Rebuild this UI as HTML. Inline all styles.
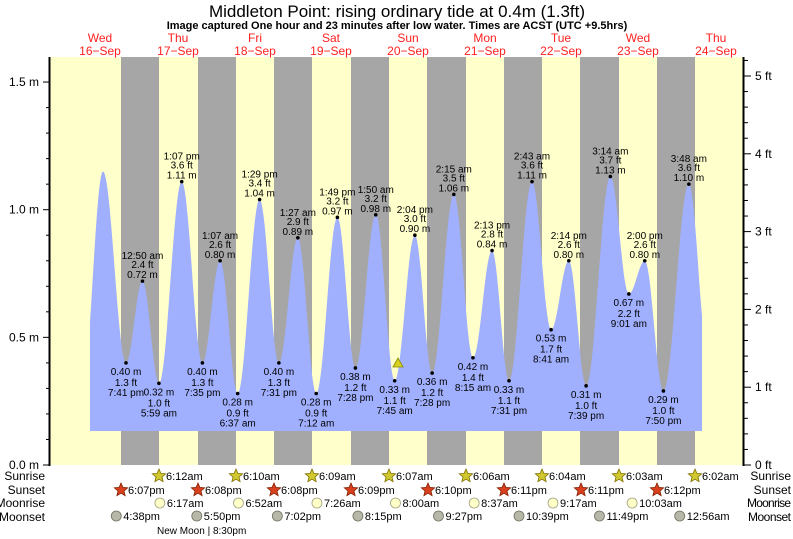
<!DOCTYPE html>
<html><head><meta charset="utf-8"><style>
html,body{margin:0;padding:0;background:#fff;}
svg{display:block;font-family:"Liberation Sans",Arial,sans-serif;}
</style></head><body>
<svg id="s" width="793" height="539" viewBox="0 0 793 539" xmlns="http://www.w3.org/2000/svg">
<rect x="0" y="0" width="793" height="539" fill="#fff"/>
<rect x="50" y="57" width="693" height="408" fill="#ffffcc"/>
<g id="night" fill="#a6a6a6"></g>
<path id="tide" fill="#a0b0ff" d=""/>
<g id="lbl" font-size="10" fill="#000" text-anchor="middle"></g>
<polygon points="393,367 398,358 403,367" fill="#d8d020" stroke="#8a8a00" stroke-width="0.8"/>
<g id="ax" stroke="#000"></g>
<g id="axt" font-size="12" fill="#000"></g>
<text x="397" y="17" font-size="17" text-anchor="middle">Middleton Point: rising  ordinary tide at 0.4m (1.3ft)</text>
<text x="397" y="29" font-size="11" font-weight="bold" text-anchor="middle">Image captured One hour and 23 minutes after low water. Times are ACST (UTC +9.5hrs)</text>
<g id="days" font-size="12" fill="#ff2020" text-anchor="middle"></g>
<g id="bot" font-size="11" fill="#000"></g>
</svg>
<script>
var NS="http://www.w3.org/2000/svg";
function el(p,t,a,txt){var e=document.createElementNS(NS,t);for(var k in a)e.setAttribute(k,a[k]);if(txt!==undefined)e.textContent=txt;document.getElementById(p).appendChild(e);return e;}
var M17=139.8,H=3.196;
function X(day,h,m){return M17+((day-17)*24+h+m/60)*H;}
function Y(v){return 465-v*255.3;}
[[121,159],[198,236],[274,312],[351,389],[427,466],[504,542],[580,619],[657,695]].forEach(function(b){el("night","rect",{x:b[0],y:57,width:b[1]-b[0],height:408});});
var E=[
[90,0.64,null],
[103,1.15,null],
[X(16,19,41),0.40,["0.40 m","1.3 ft","7:41 pm"]],
[X(17,0,50),0.72,["12:50 am","2.4 ft","0.72 m"]],
[X(17,5,59),0.32,["0.32 m","1.0 ft","5:59 am"]],
[X(17,13,7),1.11,["1:07 pm","3.6 ft","1.11 m"]],
[X(17,19,35),0.40,["0.40 m","1.3 ft","7:35 pm"]],
[X(18,1,7),0.80,["1:07 am","2.6 ft","0.80 m"]],
[X(18,6,37),0.28,["0.28 m","0.9 ft","6:37 am"]],
[X(18,13,29),1.04,["1:29 pm","3.4 ft","1.04 m"]],
[X(18,19,31),0.40,["0.40 m","1.3 ft","7:31 pm"]],
[X(19,1,27),0.89,["1:27 am","2.9 ft","0.89 m"]],
[X(19,7,12),0.28,["0.28 m","0.9 ft","7:12 am"]],
[X(19,13,49),0.97,["1:49 pm","3.2 ft","0.97 m"]],
[X(19,19,28),0.38,["0.38 m","1.2 ft","7:28 pm"]],
[X(20,1,50),0.98,["1:50 am","3.2 ft","0.98 m"]],
[X(20,7,45),0.33,["0.33 m","1.1 ft","7:45 am"]],
[X(20,14,4),0.90,["2:04 pm","3.0 ft","0.90 m"]],
[X(20,19,28),0.36,["0.36 m","1.2 ft","7:28 pm"]],
[X(21,2,15),1.06,["2:15 am","3.5 ft","1.06 m"]],
[X(21,8,15),0.42,["0.42 m","1.4 ft","8:15 am"]],
[X(21,14,13),0.84,["2:13 pm","2.8 ft","0.84 m"]],
[X(21,19,31),0.33,["0.33 m","1.1 ft","7:31 pm"]],
[X(22,2,43),1.11,["2:43 am","3.6 ft","1.11 m"]],
[X(22,8,41),0.53,["0.53 m","1.7 ft","8:41 am"]],
[X(22,14,14),0.80,["2:14 pm","2.6 ft","0.80 m"]],
[X(22,19,39),0.31,["0.31 m","1.0 ft","7:39 pm"]],
[X(23,3,14),1.13,["3:14 am","3.7 ft","1.13 m"]],
[X(23,9,1),0.67,["0.67 m","2.2 ft","9:01 am"]],
[X(23,14,0),0.80,["2:00 pm","2.6 ft","0.80 m"]],
[X(23,19,50),0.29,["0.29 m","1.0 ft","7:50 pm"]],
[X(24,3,48),1.10,["3:48 am","3.6 ft","1.10 m"]],
[702,0.81,null]];
var d="M90,431 L90,"+Y(0.64).toFixed(1);
for(var i=0;i<E.length-1;i++){
 var a=E[i],b=E[i+1];
 var x0=a[0],x1=b[0],v0=a[1],v1=b[1];
 var endFrac=1;
 if(i==E.length-2){var xl=X(24,9,40),vl=0.45; x1=xl; v1=vl; endFrac=(702-x0)/(xl-x0);}
 if(i==0){var xp=X(16,6,0),vp=0.3;
  for(var x=90;x<=b[0];x+=1){var f=(x-xp)/(b[0]-xp);var v=vp+(b[1]-vp)*(1-Math.cos(Math.PI*f))/2;d+=" L"+x.toFixed(1)+","+Y(v).toFixed(1);}
  continue;}
 var n=Math.max(4,Math.round((x1-x0)));
 for(var k=1;k<=n;k++){var f=k/n*endFrac;var x=x0+(x1-x0)*f;var v=v0+(v1-v0)*(1-Math.cos(Math.PI*f))/2;d+=" L"+x.toFixed(1)+","+Y(v).toFixed(1);}
}
d+=" L702,431 Z";
document.getElementById("tide").setAttribute("d",d);
E.forEach(function(e){if(!e[2])return;var x=e[0],y=Y(e[1]);
 el("lbl","circle",{cx:x,cy:y,r:1.8,fill:"#000"});
 var hi=e[2][0].indexOf("am")>0||e[2][0].indexOf("pm")>0;
 if(hi){el("lbl","text",{x:x,y:y-22},e[2][0]);el("lbl","text",{x:x,y:y-13},e[2][1]);el("lbl","text",{x:x,y:y-3},e[2][2]);}
 else{el("lbl","text",{x:x,y:y+12},e[2][0]);el("lbl","text",{x:x,y:y+23},e[2][1]);el("lbl","text",{x:x,y:y+33},e[2][2]);}
});
el("ax","line",{x1:49.5,y1:57,x2:49.5,y2:466,"stroke-width":2});
el("ax","line",{x1:743.5,y1:57,x2:743.5,y2:466,"stroke-width":2});
for(var i=0;i<=15;i++){var y=Y(i/10);var maj=i%5==0;el("ax","line",{x1:maj?43:46,y1:y,x2:49,y2:y,"stroke-width":1});}
for(var i=0;i<=26;i++){var y=465-i*0.2*77.8;if(y<57)break;var maj=i%5==0;el("ax","line",{x1:744,y1:y,x2:maj?751:748,y2:y,"stroke-width":1});}
[["0.0 m",0],["0.5 m",0.5],["1.0 m",1],["1.5 m",1.5]].forEach(function(t){el("axt","text",{x:39,y:Y(t[1])+4,"text-anchor":"end"},t[0]);});
for(var i=0;i<=5;i++){el("axt","text",{x:755,y:465-i*77.8+4},i+" ft");}
[["Wed","16\u2212Sep",100],["Thu","17\u2212Sep",178],["Fri","18\u2212Sep",255],["Sat","19\u2212Sep",331],["Sun","20\u2212Sep",408],["Mon","21\u2212Sep",485],["Tue","22\u2212Sep",561],["Wed","23\u2212Sep",638],["Thu","24\u2212Sep",716]].forEach(function(t){el("days","text",{x:t[2],y:42},t[0]);el("days","text",{x:t[2],y:55},t[1]);});
var rows=[["Sunrise",480],["Sunset",494],["Moonrise",507],["Moonset",521]];
rows.forEach(function(r){el("bot","text",{x:45,y:r[1],"text-anchor":"end","font-size":12},r[0]);el("bot","text",{x:791,y:r[1],"text-anchor":"end","font-size":12,textLength:r[0]=="Moonrise"?44:(r[0]=="Moonset"?43:0)||null},r[0]);});
function star(cx,cy,fill,stroke){var p="";for(var i=0;i<10;i++){var r=i%2?3.2:7;var a=-Math.PI/2+i*Math.PI/5;p+=(cx+r*Math.cos(a)).toFixed(1)+","+(cy+r*Math.sin(a)).toFixed(1)+" ";}el("bot","polygon",{points:p,fill:fill,stroke:stroke,"stroke-width":0.8});}
var sr=[[159,"6:12am"],[236,"6:10am"],[312,"6:09am"],[389,"6:07am"],[466,"6:06am"],[542,"6:04am"],[619,"6:03am"],[695,"6:02am"]];
sr.forEach(function(s){star(s[0],476,"#d0c830","#807000");el("bot","text",{x:s[0]+7,y:480},s[1]);});
var ss=[[121,"6:07pm"],[198,"6:08pm"],[274,"6:08pm"],[351,"6:09pm"],[428,"6:10pm"],[504,"6:11pm"],[581,"6:11pm"],[657,"6:12pm"]];
ss.forEach(function(s){star(s[0],490,"#d84020","#802000");el("bot","text",{x:s[0]+7,y:494},s[1]);});
var mr=[[X(17,6,17),"6:17am"],[X(18,6,52),"6:52am"],[X(19,7,26),"7:26am"],[X(20,8,0),"8:00am"],[X(21,8,37),"8:37am"],[X(22,9,17),"9:17am"],[X(23,10,3),"10:03am"]];
mr.forEach(function(s){el("bot","circle",{cx:s[0],cy:503,r:5,fill:"#ffffc8",stroke:"#a0a080","stroke-width":0.8});el("bot","text",{x:s[0]+7,y:507},s[1]);});
var ms=[[X(16,16,38),"4:38pm"],[X(17,17,50),"5:50pm"],[X(18,19,2),"7:02pm"],[X(19,20,15),"8:15pm"],[X(20,21,27),"9:27pm"],[X(21,22,39),"10:39pm"],[X(22,23,49),"11:49pm"],[X(24,0,56),"12:56am"]];
ms.forEach(function(s){el("bot","circle",{cx:s[0],cy:516,r:5,fill:"#b8b8a8",stroke:"#707060","stroke-width":0.8});el("bot","text",{x:s[0]+7,y:520},s[1]);});
el("bot","text",{x:157,y:534,"font-size":10},"New Moon | 8:30pm");
</script>
</body></html>
